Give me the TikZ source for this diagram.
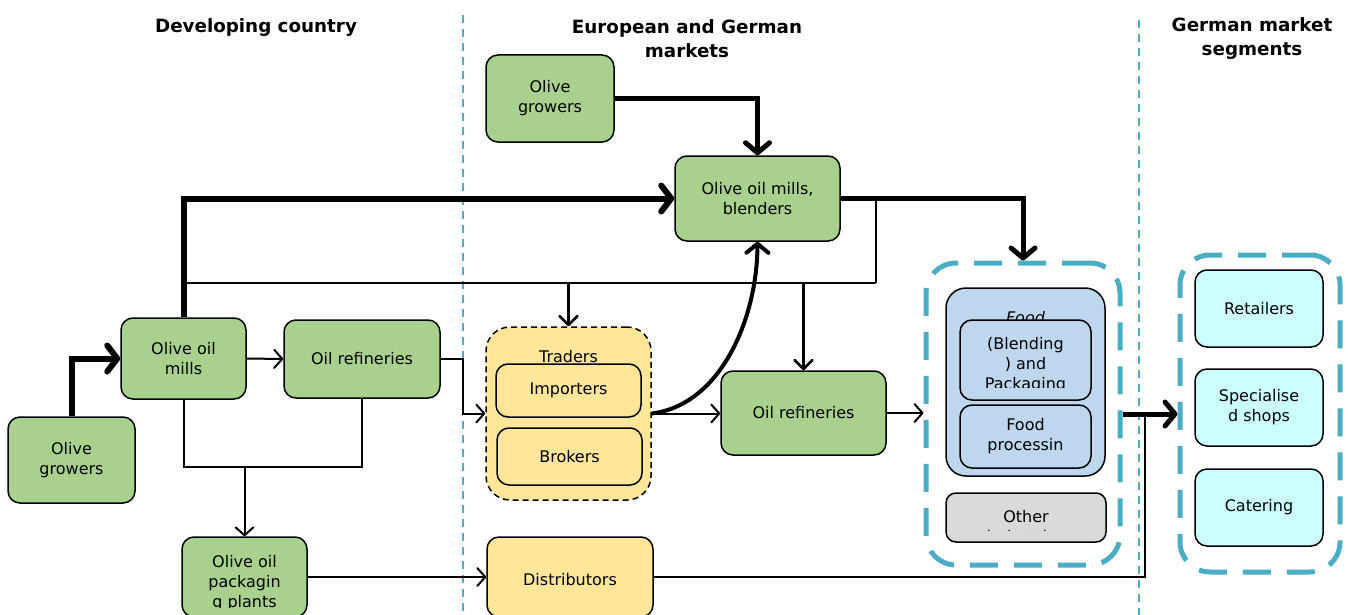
\documentclass[tikz,border=0pt]{standalone}
\usepackage{fontspec}
\setmainfont{DejaVu Sans}
\usetikzlibrary{arrows.meta}
\definecolor{gfill}{HTML}{A9D18E}
\definecolor{yfill}{HTML}{FFE699}
\definecolor{bfill}{HTML}{BDD7EE}
\definecolor{greyfill}{HTML}{D9D9D9}
\definecolor{cfill}{HTML}{CCFFFF}
\definecolor{sepc}{HTML}{4BACC6}
\begin{document}
\begin{tikzpicture}[x=1pt,y=-1pt,
  every node/.style={font=\fontsize{16}{20}\selectfont, align=center, inner sep=0pt},
  box/.style={draw, line width=1.5pt, rounded corners=12pt},
  gbox/.style={box, fill=gfill},
  ybox/.style={box, fill=yfill},
  bbox/.style={box, fill=bfill},
  cbox/.style={box, fill=cfill},
  head/.style={font=\fontsize{18.3}{24}\selectfont\bfseries},
  sep/.style={draw=sepc, line width=1.5pt, dash pattern=on 8pt off 6pt},
  container/.style={draw=sepc, line width=5pt, dash pattern=on 28pt off 16pt, rounded corners=30pt},
  thin/.style={line width=2pt},
  thinarr/.style={line width=2pt, -{Straight Barb[round,length=8pt,width=18pt]}},
  medarr/.style={line width=2.5pt, -{Straight Barb[round,length=9pt,width=18pt]}},
  thickarr/.style={line width=6pt, -{Straight Barb[round,length=10pt,width=26pt]}},
  bigarr/.style={line width=5pt, -{Straight Barb[round,length=10pt,width=24pt]}},
  curvearr/.style={line width=4pt, -{Straight Barb[round,length=9pt,width=22pt]}}
]
\useasboundingbox (0,0) rectangle (1348,615);

% separators
\coordinate (s1a) at (463,15); \coordinate (s1b) at (463,615);
\coordinate (s2a) at (1139,20); \coordinate (s2b) at (1139,615);
\draw[sep] (s1a) -- (s1b);
\draw[sep] (s2a) -- (s2b);

% headings
\node[head] (h1) at (256,28) {Developing country};
\node[head] (h2) at (687,38.5) {European and German\\markets};
\node[head] (h3) at (1252,38.5) {German market\\segments};

% containers
\node[container, minimum width=194pt, minimum height=302pt] (cont1) at (1023,414) {};
\node[container, minimum width=160pt, minimum height=317pt] (cont2) at (1260,413.5) {};

% developing country nodes
\node[gbox, minimum width=127pt, minimum height=86pt] (growersL) at (71.5,460) {Olive\\growers};
\node[gbox, minimum width=125pt, minimum height=81pt] (millsL) at (183.5,358.5) {Olive oil\\mills};
\node[gbox, minimum width=156pt, minimum height=78pt] (refL) at (362,359) {Oil refineries};
\node[gbox, minimum width=125pt, minimum height=80pt] (packL) at (244.5,577) {};
\begin{scope}
\clip (182,537) rectangle (307,607);
\node (packLt) at (244.5,583) {Olive oil\\packagin\\g plants};
\end{scope}

% European nodes
\node[gbox, minimum width=128pt, minimum height=87pt] (growersM) at (550,98.5) {Olive\\growers};
\node[gbox, minimum width=165pt, minimum height=85pt] (millsM) at (757.5,198.5) {Olive oil mills,\\blenders};
\node[ybox, dash pattern=on 6pt off 4pt, minimum width=165pt, minimum height=173pt, rounded corners=24pt] (traders) at (568.5,413.5) {};
\node (traderst) at (568.5,357) {Traders};
\node[ybox, minimum width=145pt, minimum height=53pt] (importers) at (568.5,390.5) {Importers};
\node[ybox, minimum width=145pt, minimum height=57pt] (brokers) at (569.5,456.5) {Brokers};
\node[gbox, minimum width=165pt, minimum height=84pt] (refM) at (803.5,413) {Oil refineries};
\node[ybox, minimum width=166pt, minimum height=80pt] (distrib) at (570,577) {};
\node (distribt) at (570,580) {Distributors};

% food box
\node[bbox, minimum width=159pt, minimum height=188pt, rounded corners=20pt] (food) at (1025.5,382) {};
\node[font=\fontsize{16}{20}\selectfont\itshape] (foodt) at (1025.5,318) {Food};
\node[bbox, minimum width=131pt, minimum height=80pt] (blend) at (1025.5,360) {};
\begin{scope}
\clip (960,320) rectangle (1091,387);
\node (blendt) at (1025.5,365) {(Blending\\) and\\Packaging};
\end{scope}
\node[bbox, minimum width=131pt, minimum height=63pt] (fproc) at (1025.5,436.5) {Food\\processin};
\node[box, fill=greyfill, minimum width=160pt, minimum height=49pt, rounded corners=10pt] (other) at (1026,517.5) {};
\begin{scope}
\clip (946,493) rectangle (1106,530);
\node (othert) at (1026,527) {Other\\industries};
\end{scope}

% German segments
\node[cbox, minimum width=128pt, minimum height=77pt] (retail) at (1259,308.5) {Retailers};
\node[cbox, minimum width=128pt, minimum height=77pt] (spec) at (1259,407.5) {Specialise\\d shops};
\node[cbox, minimum width=128pt, minimum height=77pt] (cater) at (1259,507.5) {Catering};

% connectors
\coordinate (b1) at (183.5,283);
\coordinate (b2) at (876,283);
\coordinate (j1) at (1145,414);
\coordinate (j2) at (244.5,467);
\coordinate (j3) at (463,359);

\draw[thickarr] (growersL.north) |- (millsL.west);
\draw[thinarr] (millsL.east) -- (refL.west);
\draw[thickarr] (millsL.north) |- (millsM.west);
\draw[line width=2.5pt] (b1) -- (b2);
\draw[medarr] (b1 -| traders.north) -- (traders.north);
\draw[line width=2.5pt] (b2) -- (b2 |- millsM.east);
\draw[medarr] (b2 -| refM.north) -- (refM.north);
\draw[bigarr] (millsM.east) -| (cont1.north);
\draw[bigarr] (growersM.east) -| (millsM.north);
\draw[curvearr] (traders.east) .. controls (720,405) and (757,320) .. (millsM.south);
\draw[thinarr] (traders.east) -- (traders.east -| refM.west);
\draw[thinarr] (refL.east) -- (j3) |- (traders.west);
\draw[thin] (millsL.south) |- (j2) -| (refL.south);
\draw[thinarr] (j2) -- (packL.north);
\draw[thinarr] (packL.east) -- (distrib.west);
\draw[thin] (distrib.east) -| (j1);
\draw[thinarr] (refM.east) -- (refM.east -| cont1.west);
\draw[bigarr] (cont1.east) -- (cont1.east -| cont2.west);
\end{tikzpicture}
\end{document}
